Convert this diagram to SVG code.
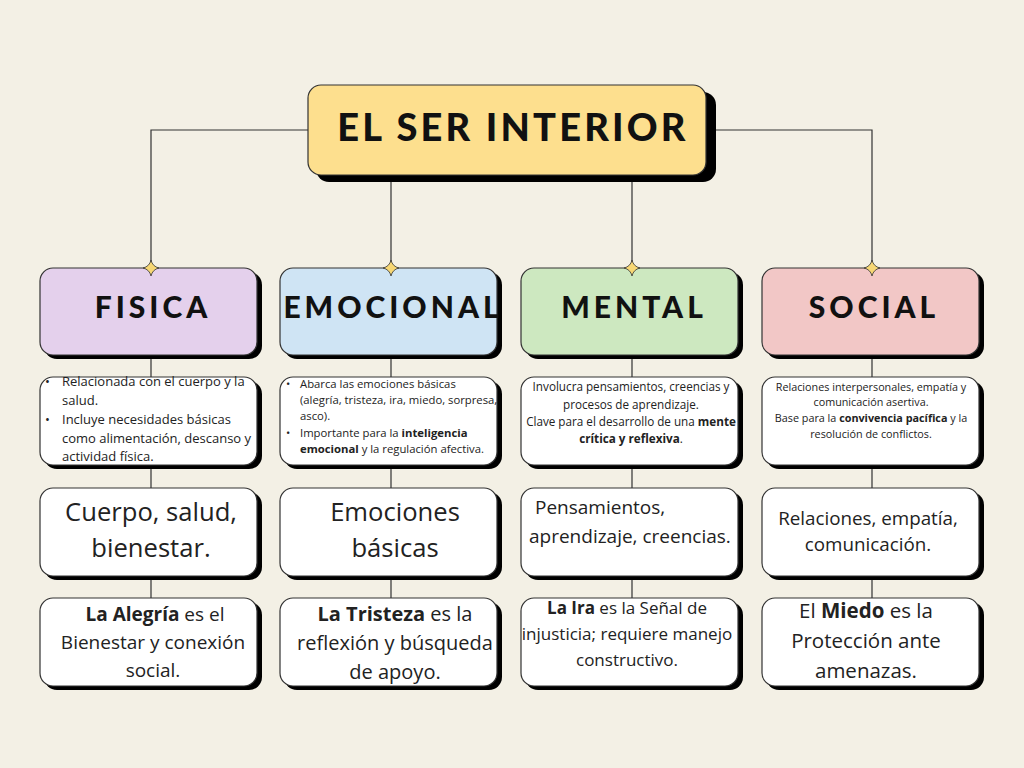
<svg xmlns="http://www.w3.org/2000/svg" width="1024" height="768" viewBox="0 0 1024 768">
<defs>
<style>
.bg{fill:#F3F0E5}
.ln{stroke:#333;stroke-width:1.2;fill:none}
.sh{fill:#000}
.bx{stroke:#333;stroke-width:1.2}
.w{fill:#fff}
.hd{font-family:Lato,"Liberation Sans",sans-serif;font-weight:900;font-size:30px;letter-spacing:4px;fill:#111;text-anchor:middle}
.tt{font-family:Lato,"Liberation Sans",sans-serif;font-weight:900;font-size:38px;letter-spacing:3.2px;fill:#111;text-anchor:middle}
.t{font-family:"Open Sans","Liberation Sans",sans-serif;fill:#222}
.c{text-anchor:middle}
.b{font-weight:700}
.star{fill:#F7D774;stroke:#333;stroke-width:0.8}
</style>
<path id="star" d="M0,-8 Q1.5,-1.5 8,0 Q1.5,1.5 0,8 Q-1.5,1.5 -8,0 Q-1.5,-1.5 0,-8Z"/>
</defs>
<rect class="bg" x="0" y="0" width="1024" height="768"/>
<g id="connectors">
<path class="ln" d="M308,130 H151 V268 M716,130 H872 V268 M391,175 V268 M632,175 V268"/>
<path class="ln" d="M151,355 V598 M391,355 V598 M632,355 V598 M872,355 V598"/>
</g>
<g id="title">
<rect class="sh" x="316" y="92" width="400" height="90" rx="13"/>
<rect class="bx" x="308" y="85" width="398" height="90" rx="13" fill="#FDDF8E"/>
<text class="tt" x="513" y="141">EL SER INTERIOR</text>
</g>
<g id="fisica">
<rect class="sh" x="44" y="272" width="218" height="87" rx="13"/>
<rect class="bx" x="40" y="268" width="217" height="87" rx="13" fill="#E4D0EC"/>
<text class="hd" x="153" y="318">FISICA</text>
<use href="#star" class="star" x="151" y="268"/>
</g>
<g id="emocional">
<rect class="sh" x="284" y="272" width="218" height="87" rx="13"/>
<rect class="bx" x="280" y="268" width="217" height="87" rx="13" fill="#CFE4F4"/>
<text class="hd" x="393" y="318">EMOCIONAL</text>
<use href="#star" class="star" x="391" y="268"/>
</g>
<g id="mental">
<rect class="sh" x="525" y="272" width="218" height="87" rx="13"/>
<rect class="bx" x="521" y="268" width="217" height="87" rx="13" fill="#CDE8C0"/>
<text class="hd" x="634" y="318">MENTAL</text>
<use href="#star" class="star" x="632" y="268"/>
</g>
<g id="social">
<rect class="sh" x="766" y="272" width="218" height="87" rx="13"/>
<rect class="bx" x="762" y="268" width="217" height="87" rx="13" fill="#F2C7C6"/>
<text class="hd" x="874" y="318">SOCIAL</text>
<use href="#star" class="star" x="872" y="268"/>
</g>
<g id="fisica-desc">
<rect class="sh" x="44" y="381" width="218" height="88" rx="13"/>
<rect class="bx w" x="40" y="377" width="217" height="88" rx="13"/>
<g class="t" font-size="13">
<text x="45" y="386">•</text><text x="62" y="386">Relacionada con el cuerpo y la</text>
<text x="62" y="405">salud.</text>
<text x="45" y="424">•</text><text x="62" y="424">Incluye necesidades básicas</text>
<text x="62" y="443">como alimentación, descanso y</text>
<text x="62" y="461">actividad física.</text>
</g>
</g>
<g id="emocional-desc">
<rect class="sh" x="284" y="381" width="218" height="88" rx="13"/>
<rect class="bx w" x="280" y="377" width="217" height="88" rx="13"/>
<g class="t" font-size="11.3">
<text x="286" y="388">•</text><text x="300" y="388">Abarca las emociones básicas</text>
<text x="300" y="404">(alegría, tristeza, ira, miedo, sorpresa,</text>
<text x="300" y="420">asco).</text>
<text x="286" y="437">•</text><text x="300" y="437">Importante para la <tspan class="b">inteligencia</tspan></text>
<text x="300" y="453"><tspan class="b">emocional</tspan> y la regulación afectiva.</text>
</g>
</g>
<g id="mental-desc">
<rect class="sh" x="525" y="381" width="218" height="88" rx="13"/>
<rect class="bx w" x="521" y="377" width="217" height="88" rx="13"/>
<g class="t c" font-size="11.7">
<text x="631" y="391">Involucra pensamientos, creencias y</text>
<text x="631" y="409">procesos de aprendizaje.</text>
<text x="631" y="426">Clave para el desarrollo de una <tspan class="b">mente</tspan></text>
<text x="631" y="443"><tspan class="b">crítica y reflexiva</tspan>.</text>
</g>
</g>
<g id="social-desc">
<rect class="sh" x="766" y="381" width="218" height="88" rx="13"/>
<rect class="bx w" x="762" y="377" width="217" height="88" rx="13"/>
<g class="t c" font-size="10.8">
<text x="871" y="391">Relaciones interpersonales, empatía y</text>
<text x="871" y="406">comunicación asertiva.</text>
<text x="871" y="422">Base para la <tspan class="b">convivencia pacífica</tspan> y la</text>
<text x="871" y="438">resolución de conflictos.</text>
</g>
</g>
<g id="fisica-key">
<rect class="sh" x="44" y="492" width="218" height="88" rx="13"/>
<rect class="bx w" x="40" y="488" width="217" height="88" rx="13"/>
<g class="t c" font-size="25.6">
<text x="151" y="521">Cuerpo, salud,</text>
<text x="151" y="557">bienestar.</text>
</g>
</g>
<g id="emocional-key">
<rect class="sh" x="284" y="492" width="218" height="88" rx="13"/>
<rect class="bx w" x="280" y="488" width="217" height="88" rx="13"/>
<g class="t c" font-size="25.6">
<text x="395" y="521">Emociones</text>
<text x="395" y="557">básicas</text>
</g>
</g>
<g id="mental-key">
<rect class="sh" x="525" y="492" width="218" height="88" rx="13"/>
<rect class="bx w" x="521" y="488" width="217" height="88" rx="13"/>
<g class="t" font-size="19">
<text x="535" y="514">Pensamientos,</text>
<text x="529" y="543">aprendizaje, creencias.</text>
</g>
</g>
<g id="social-key">
<rect class="sh" x="766" y="492" width="218" height="88" rx="13"/>
<rect class="bx w" x="762" y="488" width="217" height="88" rx="13"/>
<g class="t c" font-size="18.8">
<text x="868" y="525">Relaciones, empatía,</text>
<text x="868" y="551">comunicación.</text>
</g>
</g>
<g id="fisica-emotion">
<rect class="sh" x="44" y="602" width="218" height="88" rx="13"/>
<rect class="bx w" x="40" y="598" width="217" height="88" rx="13"/>
<g class="t c" font-size="19">
<text x="155" y="621"><tspan class="b">La Alegría</tspan>  es el</text>
<text x="153" y="649">Bienestar y conexión</text>
<text x="153" y="677">social.</text>
</g>
</g>
<g id="emocional-emotion">
<rect class="sh" x="284" y="602" width="218" height="88" rx="13"/>
<rect class="bx w" x="280" y="598" width="217" height="88" rx="13"/>
<g class="t c" font-size="20">
<text x="395" y="621"><tspan class="b">La Tristeza</tspan> es la</text>
<text x="395" y="650">reflexión y búsqueda</text>
<text x="395" y="679">de apoyo.</text>
</g>
</g>
<g id="mental-emotion">
<rect class="sh" x="525" y="602" width="218" height="88" rx="13"/>
<rect class="bx w" x="521" y="598" width="217" height="88" rx="13"/>
<g class="t c" font-size="17">
<text x="627" y="614"><tspan class="b">La Ira</tspan> es la Señal de</text>
<text x="627" y="640">injusticia; requiere manejo</text>
<text x="627" y="666">constructivo.</text>
</g>
</g>
<g id="social-emotion">
<rect class="sh" x="766" y="602" width="218" height="88" rx="13"/>
<rect class="bx w" x="762" y="598" width="217" height="88" rx="13"/>
<g class="t c" font-size="20.5">
<text x="866" y="618">El <tspan class="b">Miedo</tspan> es la</text>
<text x="866" y="648">Protección ante</text>
<text x="866" y="678">amenazas.</text>
</g>
</g>
</svg>
